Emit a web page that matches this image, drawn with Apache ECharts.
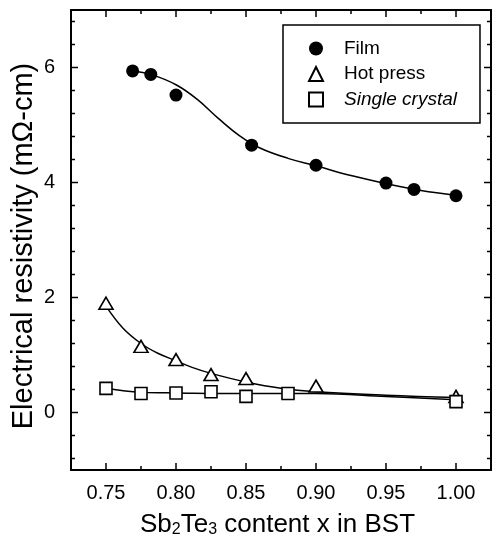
<!DOCTYPE html>
<html>
<head>
<meta charset="utf-8">
<script src="https://cdn.jsdelivr.net/npm/echarts@6.0.0/dist/echarts.min.js"></script>
<style>
  html, body { margin: 0; padding: 0; background: #fff; }
  #chart { width: 493px; height: 543px; }
</style>
</head>
<body>
<div id="chart"></div>
<script>
// measured points
const filmX = [0.769, 0.782, 0.800, 0.854, 0.900, 0.950, 0.970, 1.000];
const filmY = [5.94, 5.88, 5.52, 4.65, 4.30, 3.99, 3.88, 3.77];
const hotX = [0.750, 0.775, 0.800, 0.825, 0.850, 0.900, 1.000];
const hotY = [1.90, 1.15, 0.92, 0.66, 0.59, 0.46, 0.28];
const singleX = [0.750, 0.775, 0.800, 0.825, 0.850, 0.880, 1.000];
const singleY = [0.42, 0.33, 0.34, 0.36, 0.28, 0.33, 0.19];

// fitted curves
const filmFitX = [0.769, 0.782, 0.800, 0.815, 0.830, 0.845, 0.860, 0.880, 0.900, 0.925, 0.950, 0.975, 1.000];
const filmFitY = [5.94, 5.88, 5.70, 5.45, 5.12, 4.82, 4.60, 4.42, 4.29, 4.12, 3.98, 3.86, 3.78];
const hotFitX = [0.750, 0.762, 0.775, 0.787, 0.800, 0.812, 0.825, 0.850, 0.875, 0.900, 0.950, 1.000];
const hotFitY = [1.85, 1.47, 1.20, 1.03, 0.90, 0.78, 0.68, 0.53, 0.42, 0.36, 0.30, 0.26];
const singleFitX = [0.750, 0.775, 0.800, 0.850, 0.900, 0.950, 1.000];
const singleFitY = [0.42, 0.35, 0.34, 0.33, 0.33, 0.28, 0.22];

// ticks
const xMajor = [0.75, 0.80, 0.85, 0.90, 0.95, 1.00];
const xMinor = [0.775, 0.825, 0.875, 0.925, 0.975];
const yMajor = [0, 2, 4, 6];
const yMinor = [-0.8, -0.4, 0.4, 0.8, 1.2, 1.6, 2.4, 2.8, 3.2, 3.6, 4.4, 4.8, 5.2, 5.6, 6.4, 6.8];

const X_MIN = 0.725, X_MAX = 1.025, Y_MIN = -1, Y_MAX = 7;
const FONT = "'Liberation Sans', Arial, sans-serif";
const zip = (xs, ys) => xs.map((x, i) => [x, ys[i]]);

const chart = echarts.init(document.getElementById('chart'));

// inward ticks on all four sides, drawn through the grid's own scales
function tickSeries(values, dim, len) {
  return {
    type: 'custom', silent: true, z: 5,
    data: values.map(v => [v]),
    renderItem: (params, api) => {
      const v = api.value(0);
      const st = { stroke: '#000', lineWidth: 1.5 };
      if (dim === 'x') {
        const b = api.coord([v, Y_MIN]);
        const t = api.coord([v, Y_MAX]);
        return { type: 'group', children: [
          { type: 'line', shape: { x1: b[0], y1: b[1], x2: b[0], y2: b[1] - len }, style: st },
          { type: 'line', shape: { x1: t[0], y1: t[1], x2: t[0], y2: t[1] + len }, style: st }
        ] };
      }
      const l = api.coord([X_MIN, v]);
      const r = api.coord([X_MAX, v]);
      return { type: 'group', children: [
        { type: 'line', shape: { x1: l[0], y1: l[1], x2: l[0] + len, y2: l[1] }, style: st },
        { type: 'line', shape: { x1: r[0], y1: r[1], x2: r[0] - len, y2: r[1] }, style: st }
      ] };
    }
  };
}

const lineAxis = { show: true, onZero: false, lineStyle: { color: '#000', width: 2 } };

const option = {
  backgroundColor: '#fff',
  animation: false,
  grid: { left: 71, top: 10, width: 420, height: 460, containLabel: false, outerBoundsMode: 'none' },
  legend: {
    left: 283, top: 25, orient: 'vertical',
    selectedMode: false,
    borderColor: '#000', borderWidth: 1.5,
    padding: [14, 23, 14, 25],
    itemWidth: 14, itemHeight: 14, itemGap: 6.5,
    textStyle: { fontFamily: FONT, fontSize: 19, color: '#000', padding: [0, 0, 0, 16] },
    data: [
      { name: 'Film', icon: 'circle' },
      { name: 'Hot press', icon: 'triangle' },
      { name: 'Single crystal', icon: 'rect', textStyle: { fontStyle: 'italic' } }
    ]
  },
  xAxis: [
    {
      type: 'value', position: 'bottom', min: X_MIN, max: X_MAX,
      splitLine: { show: false }, axisLine: lineAxis, axisTick: { show: false },
      axisLabel: {
        customValues: xMajor, margin: 13,
        fontFamily: FONT, fontSize: 20, color: '#000',
        formatter: v => v.toFixed(2)
      },
      name: '{n|Sb}{s|2}{n|Te}{s|3}{n| content x in BST}',
      nameLocation: 'middle', nameGap: 38,
      nameTextStyle: {
        fontFamily: FONT, fontSize: 26, color: '#000', padding: [0, 7, 0, 0],
        rich: {
          n: { fontFamily: FONT, fontSize: 26, color: '#000', lineHeight: 30, verticalAlign: 'bottom' },
          s: { fontFamily: FONT, fontSize: 16, color: '#000', lineHeight: 10, verticalAlign: 'bottom' }
        }
      }
    },
    {
      type: 'value', position: 'top', min: X_MIN, max: X_MAX,
      splitLine: { show: false }, axisLine: lineAxis, axisTick: { show: false }, axisLabel: { show: false }
    }
  ],
  yAxis: [
    {
      type: 'value', position: 'left', min: Y_MIN, max: Y_MAX,
      splitLine: { show: false }, axisLine: lineAxis, axisTick: { show: false },
      axisLabel: { customValues: yMajor, margin: 16, fontFamily: FONT, fontSize: 20, color: '#000' },
      name: 'Electrical resistivity (mΩ-cm)',
      nameLocation: 'middle', nameGap: 33, nameMoveOverlap: false,
      nameTextStyle: { fontFamily: FONT, fontSize: 29, color: '#000', padding: [0, 12, 0, 0] }
    },
    {
      type: 'value', position: 'right', min: Y_MIN, max: Y_MAX,
      splitLine: { show: false }, axisLine: lineAxis, axisTick: { show: false }, axisLabel: { show: false }
    }
  ],
  series: [
    tickSeries(xMajor, 'x', 7),
    tickSeries(xMinor, 'x', 4),
    tickSeries(yMajor, 'y', 7),
    tickSeries(yMinor, 'y', 4),
    {
      name: 'Film fit', type: 'line', smooth: 0.4, showSymbol: false, silent: true,
      lineStyle: { color: '#000', width: 1.5 }, data: zip(filmFitX, filmFitY), z: 2
    },
    {
      name: 'Hot press fit', type: 'line', smooth: 0.4, showSymbol: false, silent: true,
      lineStyle: { color: '#000', width: 1.5 }, data: zip(hotFitX, hotFitY), z: 2
    },
    {
      name: 'Single crystal fit', type: 'line', smooth: 0.4, showSymbol: false, silent: true,
      lineStyle: { color: '#000', width: 1.5 }, data: zip(singleFitX, singleFitY), z: 2
    },
    {
      name: 'Film', type: 'scatter', symbol: 'circle', symbolSize: 13,
      itemStyle: { color: '#000', opacity: 1 }, data: zip(filmX, filmY), z: 3
    },
    {
      name: 'Hot press', type: 'scatter', symbol: 'triangle', symbolSize: [14, 12],
      itemStyle: { color: '#fff', borderColor: '#000', borderWidth: 1.6, opacity: 1 }, data: zip(hotX, hotY), z: 3
    },
    {
      name: 'Single crystal', type: 'scatter', symbol: 'rect', symbolSize: [12, 12],
      itemStyle: { color: '#fff', borderColor: '#000', borderWidth: 1.6, opacity: 1 }, data: zip(singleX, singleY), z: 3
    }
  ]
};

chart.setOption(option);
</script>
</body>
</html>
